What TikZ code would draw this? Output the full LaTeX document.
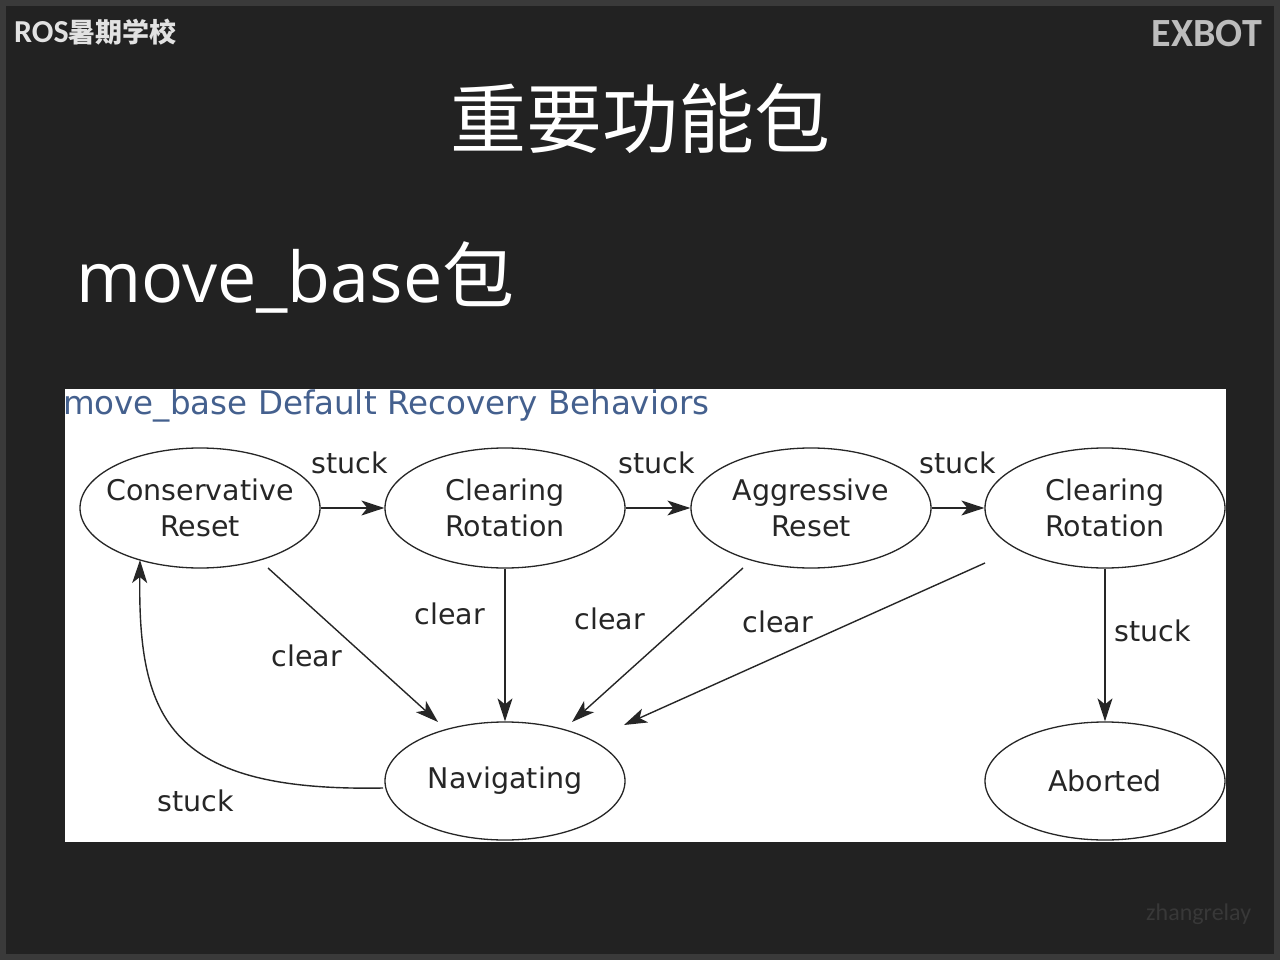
\documentclass[tikz,border=0pt]{standalone}
\usepackage{fontspec}
\setmainfont{DejaVu Sans}
\newfontfamily\cjkfont{Noto Sans CJK SC}
\newfontfamily\calfont{Carlito}
\newfontfamily\segfont{Open Sans}
\usetikzlibrary{arrows.meta,calc,shapes.geometric}
\definecolor{bgdark}{HTML}{222222}
\definecolor{bgedge}{HTML}{3A3A3A}
\definecolor{ink}{HTML}{262626}
\definecolor{titleblue}{HTML}{44608E}
\definecolor{hdr}{HTML}{E2E2E2}
\definecolor{hdrr}{HTML}{BDBDBD}
\definecolor{wmark}{HTML}{383838}
\begin{document}
\begin{tikzpicture}[x=1pt,y=-1pt,
  st/.style={ellipse,draw=ink,line width=1.3pt,minimum width=240pt,minimum height=120pt,inner sep=0pt},
  lab/.style={font=\fontsize{28.5}{36}\selectfont,text=ink,align=center,inner sep=0pt},
  arr/.style={-{Stealth[length=23pt,width=15pt,inset=6pt]},line width=1.4pt,draw=ink}]
\useasboundingbox (0,0) rectangle (1280,960);
\fill[bgedge] (0,0) rectangle (1280,960);
\fill[bgdark] (6,6) rectangle (1274,954);
% headers
\node[anchor=base west,inner sep=0pt,text=hdr,font=\calfont\bfseries\fontsize{32}{34}\selectfont] (hl) at (14,43) {ROS{\cjkfont\bfseries\fontsize{27}{30}\selectfont 暑期学校}};
\node[anchor=base east,inner sep=0pt,text=hdrr,font=\calfont\bfseries\fontsize{40}{44}\selectfont] (hr) at (1262,47) {EXBOT};
\node[anchor=center,inner sep=0pt,text=white,font=\cjkfont\fontsize{76}{80}\selectfont] (ttl) at (640,118) {重要功能包};
\node[anchor=base west,inner sep=0pt,text=white,font=\segfont\fontsize{70}{74}\selectfont] (sub) at (76,302) {move\_base{\cjkfont\fontsize{72}{74}\selectfont 包}};
\node[anchor=base west,inner sep=0pt,text=wmark,font=\calfont\fontsize{24}{26}\selectfont] (wm) at (1146,920) {zhangrelay};
% panel
\fill[white] (65,389) rectangle (1226,842);
\node[anchor=base west,inner sep=0pt,text=titleblue,font=\fontsize{32.5}{36}\selectfont] (dt) at (63,414) {move\_base Default Recovery Behaviors};
% states
\node[st,label={[lab]center:{Conservative\\Reset}}] (CR) at (200,508) {};
\node[st,label={[lab]center:{Clearing\\Rotation}}] (CR1) at (505,508) {};
\node[st,label={[lab]center:{Aggressive\\Reset}}] (AR) at (811,508) {};
\node[st,label={[lab]center:{Clearing\\Rotation}}] (CR2) at (1105,508) {};
\node[st,minimum height=118pt,label={[lab]center:{Navigating}}] (Nav) at (505,781) {};
\node[st,minimum height=118pt,label={[lab]center:{Aborted}}] (Ab) at (1105,781) {};
% edges
\draw[arr] (CR) -- (CR1) node[lab] at (350,463) {stuck};
\draw[arr] (CR1) -- (AR) node[lab] at (657,463) {stuck};
\draw[arr] (AR) -- (CR2) node[lab] at (958,463) {stuck};
\draw[arr] ($(CR)+(68,60)$) -- ($(Nav)+(-67,-59)$) node[lab] at (307,656) {clear};
\draw[arr] (CR1) -- (Nav) node[lab] at (450,614) {clear};
\draw[arr] ($(AR)+(-68,60)$) -- ($(Nav)+(67,-59)$) node[lab] at (610,619) {clear};
\draw[arr] ($(CR2)+(-120,55)$) -- ($(Nav)+(119,-56)$) node[lab] at (778,622) {clear};
\draw[arr] (CR2) -- (Ab) node[lab] at (1153,631) {stuck};
\draw[arr] ($(Nav)+(-122,7)$) .. controls (170,792) and (138,720) .. ($(CR)+(-60,52)$) node[lab] at (196,801) {stuck};
\end{tikzpicture}
\end{document}
